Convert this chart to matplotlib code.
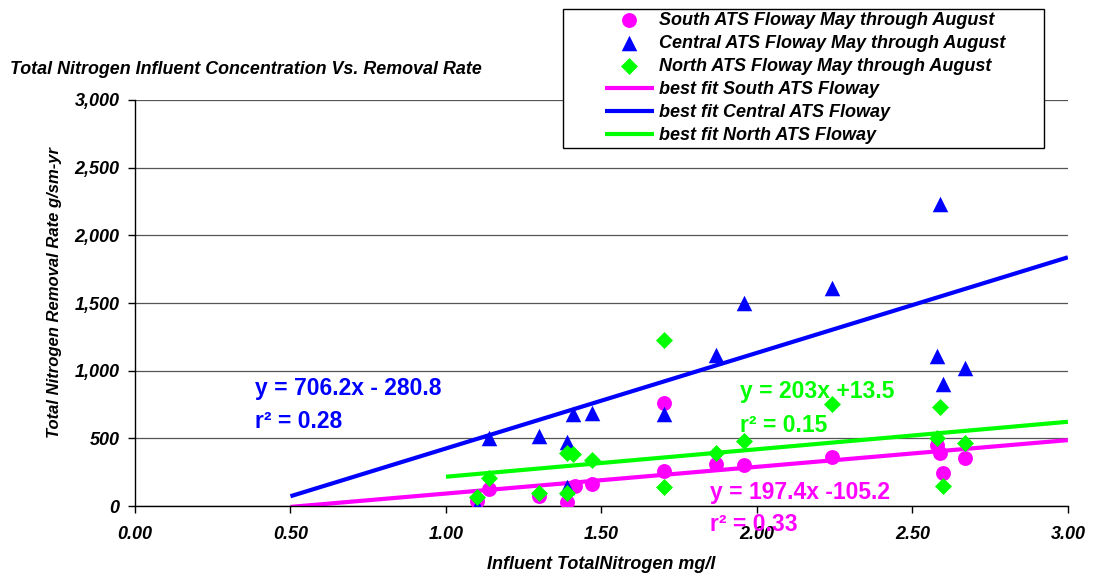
import matplotlib.pyplot as plt
from matplotlib.patches import Rectangle

plt.rcParams['font.family'] = ['Liberation Sans', 'DejaVu Sans']
plt.rcParams['font.weight'] = 'bold'
plt.rcParams['font.style'] = 'italic'

# Data (influent TN mg/l, removal rate g/sm-yr)
south_x = [1.10, 1.14, 1.30, 1.39, 1.415, 1.47, 1.70, 1.70, 1.87, 1.96, 2.24, 2.58, 2.59, 2.60, 2.67]
south_y = [40, 123, 76, 32, 148, 163, 764, 261, 312, 303, 360, 451, 390, 241, 352]

central_x = [1.10, 1.14, 1.30, 1.39, 1.39, 1.41, 1.47, 1.70, 1.87, 1.96, 2.24, 2.59, 2.58, 2.60, 2.67]
central_y = [0, 500, 520, 475, 140, 680, 690, 680, 1115, 1500, 1610, 2230, 1110, 900, 1020]

north_x = [1.10, 1.14, 1.30, 1.39, 1.41, 1.39, 1.47, 1.70, 1.70, 1.87, 1.96, 2.24, 2.59, 2.58, 2.60, 2.67]
north_y = [69, 205, 93, 394, 384, 93, 340, 1227, 143, 394, 483, 754, 734, 500, 150, 463]

# best fit lines: slope, intercept, x range
fit_south = (197.4, -105.2, [0.5, 3.0])
fit_central = (706.2, -280.8, [0.5, 3.0])
fit_north = (203.0, 13.5, [1.0, 3.0])

magenta = '#FF00FF'
blue = '#0000FF'
green = '#00FF00'

fig = plt.figure(figsize=(10.93, 5.77), dpi=100)
ax = fig.add_axes([0.1235, 0.123, 0.8535, 0.7037])

# grid lines behind everything
ax.set_axisbelow(True)
ax.yaxis.grid(True, color='#555555', linewidth=0.9)

# fit lines
line_handles = []
for (m, b, xr), c in [(fit_south, magenta), (fit_central, blue), (fit_north, green)]:
    ys = [m * x + b for x in xr]
    h, = ax.plot(xr, ys, color=c, linewidth=3, zorder=2, solid_capstyle='butt')
    line_handles.append(h)

# scatter points
hs = ax.scatter(south_x, south_y, s=115, marker='o', color=magenta, zorder=3, linewidths=0)
hc = ax.scatter(central_x, central_y, s=125, marker='^', color=blue, zorder=4, linewidths=0)
hn = ax.scatter(north_x, north_y, s=75, marker='D', color=green, zorder=5, linewidths=0)

ax.set_xlim(0, 3)
ax.set_ylim(0, 3000)
ax.set_xticks([0, 0.5, 1.0, 1.5, 2.0, 2.5, 3.0])
ax.set_xticklabels([f'{v:.2f}' for v in [0, 0.5, 1.0, 1.5, 2.0, 2.5, 3.0]])
ax.set_yticks(range(0, 3001, 500))
ax.set_yticklabels([f'{v:,}' for v in range(0, 3001, 500)])
ax.tick_params(labelsize=13, direction='out', length=5, width=1, colors='black')
ax.tick_params(axis='x', pad=9.5)
ax.tick_params(axis='y', pad=6)
for s in ['top', 'right']:
    ax.spines[s].set_visible(False)
for s in ['left', 'bottom']:
    ax.spines[s].set_linewidth(1)
    ax.spines[s].set_color('black')

ax.set_xlabel('Influent TotalNitrogen mg/l', fontsize=13, fontweight='bold', labelpad=9)
ax.set_ylabel('Total Nitrogen Removal Rate g/sm-yr', fontsize=12, fontweight='bold')
ax.yaxis.set_label_coords(-0.078, 0.525)
fig.text(0.009, 0.879, 'Total Nitrogen Influent Concentration Vs. Removal Rate',
         fontsize=12.9, fontweight='bold', va='center', ha='left')

# equation labels
eq = dict(fontsize=16.5, fontweight='bold', fontstyle='normal', va='baseline')
ax.text(0.386, 820, 'y = 706.2x - 280.8', color=blue, **eq)
ax.text(0.386, 576, 'r² = 0.28', color=blue, **eq)
ax.text(1.945, 798, 'y = 203x +13.5', color=green, **eq)
ax.text(1.945, 547, 'r² = 0.15', color=green, **eq)
ax.text(1.849, 52, 'y = 197.4x -105.2', color=magenta, zorder=6, **eq)
ax.text(1.849, -185, 'r² = 0.33', color=magenta, clip_on=False, zorder=6, **eq)

# legend box drawn separately (wide side padding like the original)
fig.patches.append(Rectangle((563 / 1093, 1 - 148 / 577), 481 / 1093, 139 / 577,
                             transform=fig.transFigure, facecolor='white',
                             edgecolor='black', linewidth=1, zorder=9))
leg = fig.legend([hs, hc, hn] + line_handles,
                 ['South ATS Floway May through August',
                  'Central ATS Floway May through August',
                  'North ATS Floway May through August',
                  'best fit South ATS Floway',
                  'best fit Central ATS Floway',
                  'best fit North ATS Floway'],
                 loc='upper left', bbox_to_anchor=(603 / 1093, 1 - 10 / 577), fontsize=13,
                 frameon=False, borderpad=0.1, borderaxespad=0,
                 handlelength=2.7, labelspacing=0.34, handletextpad=0.3)
leg.set_zorder(10)

fig.savefig('out.png', dpi=100)
